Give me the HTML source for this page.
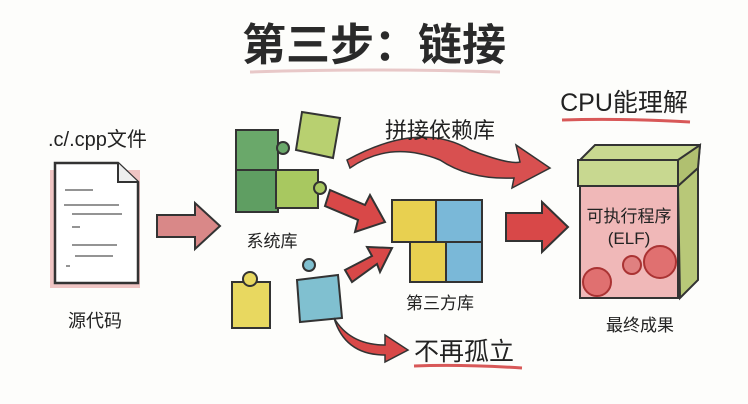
<!DOCTYPE html>
<html><head><meta charset="utf-8"><style>
html,body{margin:0;padding:0;background:#fdfdfb;}
svg{display:block;font-family:"Liberation Sans","Noto Sans CJK SC",sans-serif;}
</style></head><body>
<svg width="748" height="404" viewBox="0 0 748 404">
<rect width="748" height="404" fill="#fdfdfb"/>
<text x="374" y="60" font-size="44" text-anchor="middle" fill="#2a2a2a" font-weight="bold">第三步：链接</text>
<path d="M250 72 Q370 68 500 72" stroke="#e8c8c8" stroke-width="3" fill="none"/>

<text x="48" y="146" font-size="20" fill="#222">.c/.cpp文件</text>
<rect x="50" y="170" width="90" height="118" fill="#e8a0a0" opacity="0.6"/>
<path d="M55 163 H118 L138 182 V283 H55 Z" fill="#fff" stroke="#333" stroke-width="2.5"/>
<path d="M118 163 V182 H138" fill="#eee" stroke="#333" stroke-width="2"/>
<g stroke="#555" stroke-width="1.2" fill="none">
<path d="M65 190 h28 M64 205 h55 M72 214 h50 M72 227 h8 M72 245 h45 M75 256 h38 M66 266 h4"/>
</g>
<text x="95" y="327" font-size="18" text-anchor="middle" fill="#222">源代码</text>

<path d="M157 215 H195 V203 L220 226 L195 249 V237 H157 Z" fill="#d98888" stroke="#333" stroke-width="2"/>

<!-- system lib -->
<rect x="236" y="130" width="42" height="42" fill="#6aa86a" stroke="#333" stroke-width="2"/>
<rect x="236" y="170" width="42" height="42" fill="#5f9e62" stroke="#333" stroke-width="2"/>
<rect x="276" y="170" width="42" height="38" fill="#a8c860" stroke="#333" stroke-width="2"/>
<circle cx="283" cy="148" r="6" fill="#6aa86a" stroke="#333" stroke-width="2"/>
<circle cx="320" cy="188" r="6" fill="#a8c860" stroke="#333" stroke-width="2"/>
<path d="M302 112 L340 118 L333 158 L296 150 Z" fill="#b8d070" stroke="#333" stroke-width="2"/>
<text x="272" y="247" font-size="17" text-anchor="middle" fill="#222">系统库</text>

<rect x="232" y="282" width="38" height="46" fill="#e8d860" stroke="#333" stroke-width="2"/>
<circle cx="250" cy="279" r="7" fill="#e8d860" stroke="#333" stroke-width="2"/>
<path d="M297 280 L338 275 L342 318 L300 322 Z" fill="#80c0d0" stroke="#333" stroke-width="2"/>
<circle cx="309" cy="265" r="6" fill="#80c0d0" stroke="#333" stroke-width="2"/>

<path d="M330 190 L365 205 L370 195 L385 222 L355 232 L358 220 L325 206 Z" fill="#d84848" stroke="#333" stroke-width="2"/>
<path d="M345 270 L372 256 L367 247 L392 248 L380 272 L377 264 L352 282 Z" fill="#d84848" stroke="#333" stroke-width="2"/>

<!-- third party -->
<rect x="392" y="200" width="44" height="42" fill="#e8d050" stroke="#333" stroke-width="2"/>
<rect x="436" y="200" width="46" height="42" fill="#7ab8d8" stroke="#333" stroke-width="2"/>
<rect x="410" y="242" width="36" height="40" fill="#e8d050" stroke="#333" stroke-width="2"/>
<rect x="446" y="242" width="36" height="40" fill="#7ab8d8" stroke="#333" stroke-width="2"/>
<text x="440" y="309" font-size="17" text-anchor="middle" fill="#222">第三方库</text>

<!-- big curved arrow -->
<path d="M347 160 Q420 120 470 150 Q510 165 520 162 L516 145 L550 168 L512 188 L514 178 Q470 180 440 160 Q390 140 350 168 Z" fill="#d85050" stroke="#333" stroke-width="1.5"/>
<text x="440" y="138" font-size="22" text-anchor="middle" fill="#222">拼接依赖库</text>

<path d="M506 213 H542 V202 L568 227 L542 252 V241 H506 Z" fill="#d84848" stroke="#333" stroke-width="2"/>

<!-- box -->
<path d="M580 160 L595 145 L700 145 L698 165 Z" fill="#c8d890" stroke="#333" stroke-width="2"/>
<rect x="578" y="160" width="100" height="26" fill="#c8d890" stroke="#333" stroke-width="2"/>
<path d="M678 186 L698 168 L698 280 L680 298 Z" fill="#b8c878" stroke="#333" stroke-width="2"/>
<path d="M678 160 L700 145 L698 168 L678 186 Z" fill="#b0c070" stroke="#333" stroke-width="2"/>
<rect x="580" y="186" width="98" height="112" fill="#f0b8b8" stroke="#333" stroke-width="2"/>
<circle cx="660" cy="262" r="16" fill="#e07070" stroke="#a33" stroke-width="2"/>
<circle cx="632" cy="265" r="9" fill="#e08080" stroke="#a33" stroke-width="2"/>
<circle cx="597" cy="282" r="14" fill="#e07070" stroke="#a33" stroke-width="2"/>
<text x="629" y="222" font-size="17" text-anchor="middle" fill="#222">可执行程序</text>
<text x="629" y="244" font-size="17" text-anchor="middle" fill="#222">(ELF)</text>
<text x="640" y="331" font-size="17" text-anchor="middle" fill="#222">最终成果</text>

<text x="624" y="111" font-size="25" text-anchor="middle" fill="#222">CPU能理解</text>
<path d="M562 120 Q620 118 690 122" stroke="#d85858" stroke-width="3" fill="none"/>

<path d="M334 318 Q350 345 385 345 L385 335 L408 350 L385 362 L385 355 Q345 355 334 318 Z" fill="#d84848" stroke="#333" stroke-width="1.5"/>
<text x="464" y="360" font-size="25" text-anchor="middle" fill="#222">不再孤立</text>
<path d="M414 366 Q460 364 522 368" stroke="#d85858" stroke-width="3" fill="none"/>
</svg>
</body></html>
